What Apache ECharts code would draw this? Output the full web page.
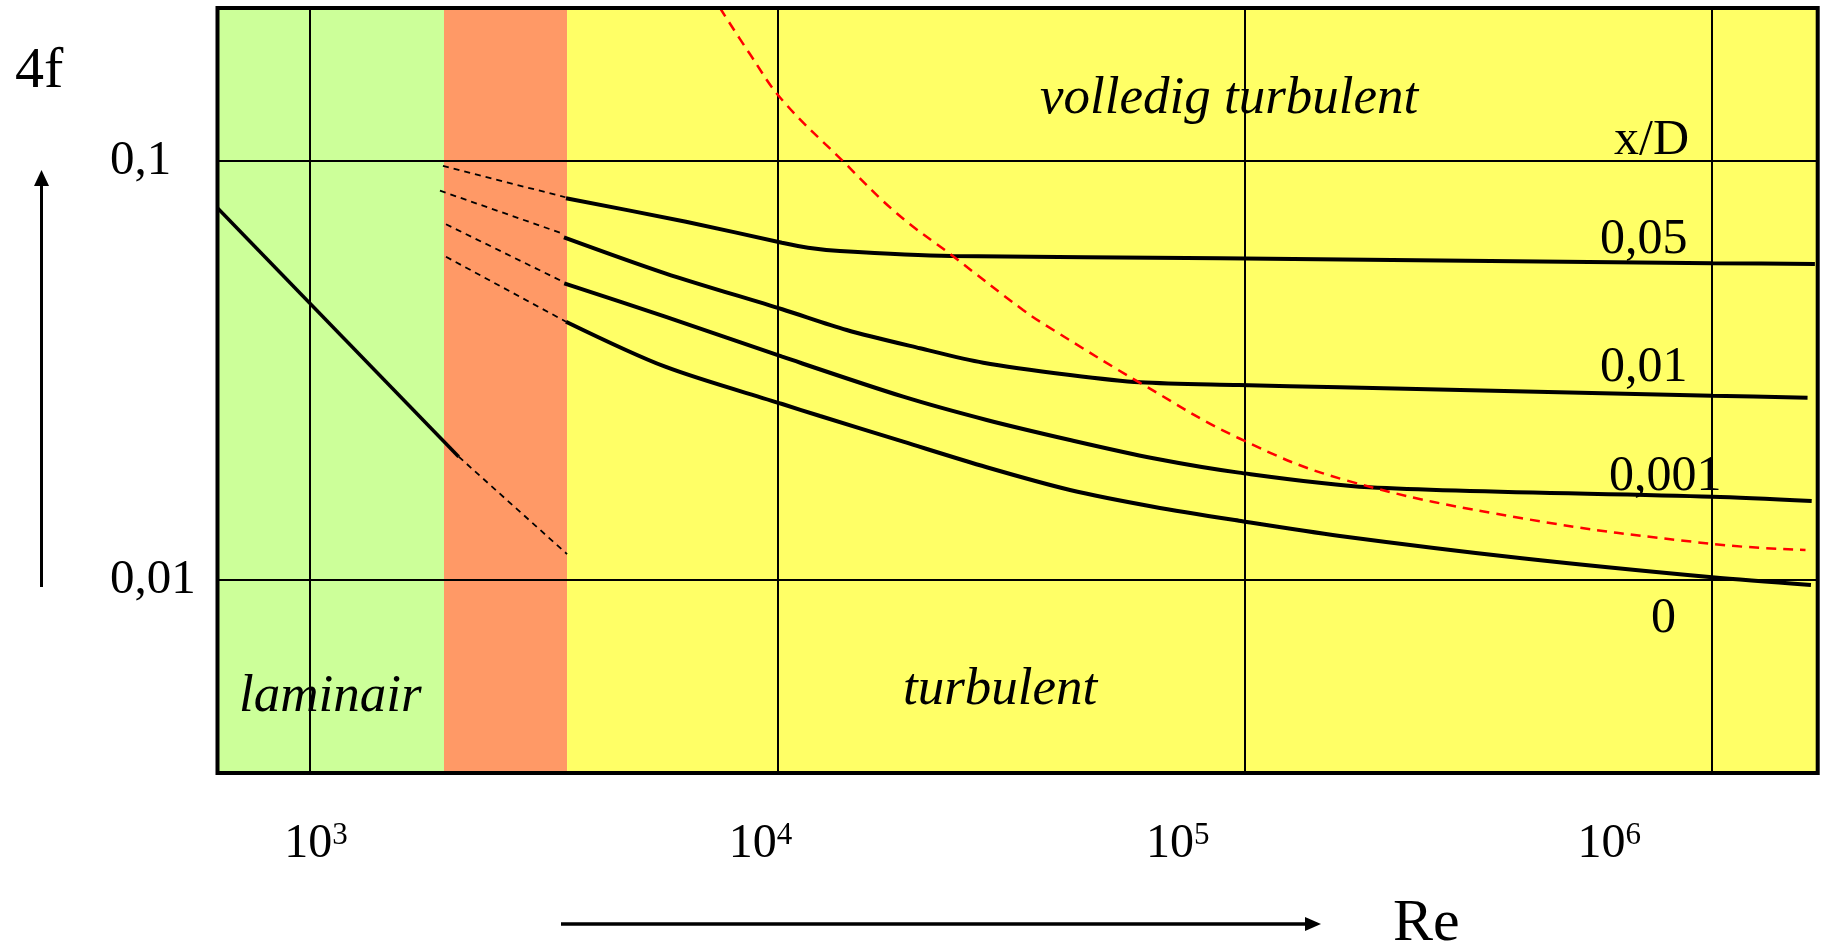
<!DOCTYPE html>
<html>
<head>
<meta charset="utf-8">
<title>4f - Re</title>
<script src="https://cdn.jsdelivr.net/npm/echarts@6/dist/echarts.min.js"></script>
<style>
  html, body { margin: 0; padding: 0; background: #fff; }
  #chart { width: 1831px; height: 946px; }
</style>
</head>
<body>
<div id="chart"></div>
<script>
// plot range (Re on x, 4f on y, both log)
var reRange = [634, 1.682e6];
var fRange = [0.003462, 0.2318];

// regimes: laminair / overgang / turbulent
var regimeEdges = [634, 1935, 3548, 1.682e6];
var regimeColors = ['#CCFF99', '#FF9966', '#FFFF66'];

// laminar line, solid part and dashed continuation
var laminar = [[634, 0.0772], [2080, 0.01969]];
var laminarDashed = [[2080, 0.01969], [3548, 0.01153]];

// dashed pieces in the transition zone
var transition = [
  [[1925, 0.09729], [3519, 0.08193]],
  [[1897, 0.08494], [3505, 0.06685]],
  [[1954, 0.07062], [3452, 0.05171]],
  [[1954, 0.05908], [3529, 0.04135]]
];

// turbulent curves for x/D = 0.05, 0.01, 0.001, 0
var xd005 = [[3529, 0.08147], [6374, 0.07163], [10228, 0.06383], [11630, 0.06208], [13610, 0.06097],
  [23518, 0.05932], [88480, 0.05858], [999000, 0.05701], [1659000, 0.05680]];
var xd001 = [[3494, 0.06574], [5754, 0.05395], [10240, 0.04427], [14070, 0.03951], [20190, 0.03573],
  [27570, 0.03300], [42270, 0.03085], [59690, 0.02963], [97180, 0.02920], [159800, 0.02884],
  [1000000, 0.02754], [1600000, 0.02724]];
var xd0001 = [[3499, 0.05106], [5754, 0.04250], [10240, 0.03411], [18590, 0.02738],
  [28040, 0.02409], [42270, 0.02158], [63720, 0.01952], [97180, 0.01804], [184400, 0.01665],
  [1000000, 0.01580], [1633000, 0.01543]];
var xd0 = [[3529, 0.04135], [5754, 0.03229], [10240, 0.02630], [12340, 0.02462], [18590, 0.02138],
  [28040, 0.01858], [42270, 0.01640], [63720, 0.01496], [97180, 0.01385], [159800, 0.01274],
  [391900, 0.01127], [1000000, 0.01015], [1627000, 0.00973]];

// boundary of "volledig turbulent" (red dashed)
var fullyTurbulent = [[7538, 0.2318], [8712, 0.1807], [10240, 0.1398], [13800, 0.1], [18000, 0.07502],
  [23570, 0.05965], [33540, 0.04410], [38940, 0.03951], [59940, 0.02947], [97180, 0.02179],
  [163700, 0.01733], [391900, 0.01404], [1000000, 0.01219], [1584000, 0.01179]];

var xTickPowers = [3, 4, 5, 6];
var yTickLabels = { '-1': '0,1', '-2': '0,01' };

// the exponent labels sit a bit off their grid lines in the original (px)
var xLabelShift = { 3: 6, 4: -17, 5: -67, 6: -103 };

var serif = "'Liberation Serif', 'Times New Roman', serif";

function isPow10(v) {
  var l = Math.log10(v);
  return Math.abs(l - Math.round(l)) < 1e-6 ? Math.round(l) : null;
}

function lineSeries(data, opts) {
  return Object.assign({
    type: 'line',
    data: data,
    showSymbol: false,
    symbol: 'none',
    silent: true,
    z: 3,
    lineStyle: { color: '#000', width: 4 }
  }, opts || {});
}

var bands = [];
for (var i = 0; i < regimeColors.length; i++) {
  bands.push([
    { xAxis: regimeEdges[i], itemStyle: { color: regimeColors[i] } },
    { xAxis: regimeEdges[i + 1] }
  ]);
}

var xRich = {};
xTickPowers.forEach(function (p) {
  var d = xLabelShift[p] || 0;
  xRich['b' + p] = { fontFamily: serif, fontSize: 48, lineHeight: 48, color: '#000',
    padding: [0, 0, 0, d > 0 ? 2 * d : 0] };
  xRich['s' + p] = { fontFamily: serif, fontSize: 31, lineHeight: 31, color: '#000', verticalAlign: 'top',
    padding: [0, d < 0 ? -2 * d : 0, 0, 0] };
});

var series = [];
series.push({
  type: 'line',
  data: [],
  silent: true,
  markArea: { silent: true, z: -1, itemStyle: { opacity: 1 }, data: bands }
});
series.push(lineSeries(laminar, { lineStyle: { color: '#000', width: 3.5 } }));
series.push(lineSeries(laminarDashed, { lineStyle: { color: '#000', width: 1.8, type: [6, 5] } }));
transition.forEach(function (d) {
  series.push(lineSeries(d, { lineStyle: { color: '#000', width: 1.8, type: [6, 5] } }));
});
series.push(lineSeries(xd005, { smooth: 0.2 }));
series.push(lineSeries(xd001, { smooth: 0.3 }));
series.push(lineSeries(xd0001, { smooth: 0.3 }));
series.push(lineSeries(xd0, { smooth: 0.3 }));
series.push(lineSeries(fullyTurbulent, { smooth: 0.4, lineStyle: { color: '#FF0000', width: 2.5, type: [10, 7] } }));

function txt(text, x, baseline, size, italic) {
  return {
    type: 'text',
    x: x,
    y: baseline - 0.27 * size,
    silent: true,
    z: 10,
    style: {
      text: text,
      fill: '#000',
      font: (italic ? 'italic ' : '') + size + 'px ' + serif,
      align: 'left',
      verticalAlign: 'middle'
    }
  };
}

var chart = echarts.init(document.getElementById('chart'));
chart.setOption({
  animation: false,
  backgroundColor: '#fff',
  grid: {
    left: 217.5, right: 13.3, top: 8, bottom: 173,
    containLabel: false,
    outerBoundsMode: 'none',
    show: true, z: 5,
    backgroundColor: 'transparent',
    borderColor: '#000', borderWidth: 4
  },
  xAxis: {
    type: 'log',
    logBase: 10,
    min: reRange[0],
    max: reRange[1],
    axisLine: { show: false },
    axisTick: { show: false },
    splitLine: { show: true, lineStyle: { color: '#000', width: 2 } },
    axisLabel: {
      margin: 47,
      hideOverlap: false,
      formatter: function (v) {
        var p = isPow10(v);
        if (p === null || xTickPowers.indexOf(p) < 0) return '';
        return '{b' + p + '|10}{s' + p + '|' + p + '}';
      },
      rich: xRich
    }
  },
  yAxis: {
    type: 'log',
    logBase: 10,
    min: fRange[0],
    max: fRange[1],
    axisLine: { show: false },
    axisTick: { show: false },
    splitLine: { show: true, lineStyle: { color: '#000', width: 2 } },
    axisLabel: {
      margin: 107.5,
      align: 'left',
      fontFamily: serif,
      fontSize: 49,
      color: '#000',
      formatter: function (v) {
        var p = isPow10(v);
        return p === null ? '' : (yTickLabels[String(p)] || '');
      }
    }
  },
  series: series,
  graphic: [
    txt('4f', 15, 87, 58),
    txt('volledig turbulent', 1040, 113, 53, true),
    txt('x/D', 1614, 154, 50),
    txt('0,05', 1600, 253, 50),
    txt('0,01', 1600, 381, 50),
    txt('0,001', 1609, 490, 50),
    txt('0', 1651, 632, 50),
    txt('laminair', 239, 711, 53, true),
    txt('turbulent', 903, 704, 53, true),
    txt('Re', 1393, 940, 60),
    // y arrow
    { type: 'line', silent: true, shape: { x1: 41.5, y1: 587, x2: 41.5, y2: 182 }, style: { stroke: '#000', lineWidth: 3 } },
    { type: 'polygon', silent: true, shape: { points: [[41.5, 170], [34, 186], [49, 186]] }, style: { fill: '#000' } },
    // x arrow
    { type: 'line', silent: true, shape: { x1: 561, y1: 924, x2: 1308, y2: 924 }, style: { stroke: '#000', lineWidth: 3.5 } },
    { type: 'polygon', silent: true, shape: { points: [[1321, 924], [1305, 917], [1305, 931]] }, style: { fill: '#000' } }
  ]
});
</script>
</body>
</html>
